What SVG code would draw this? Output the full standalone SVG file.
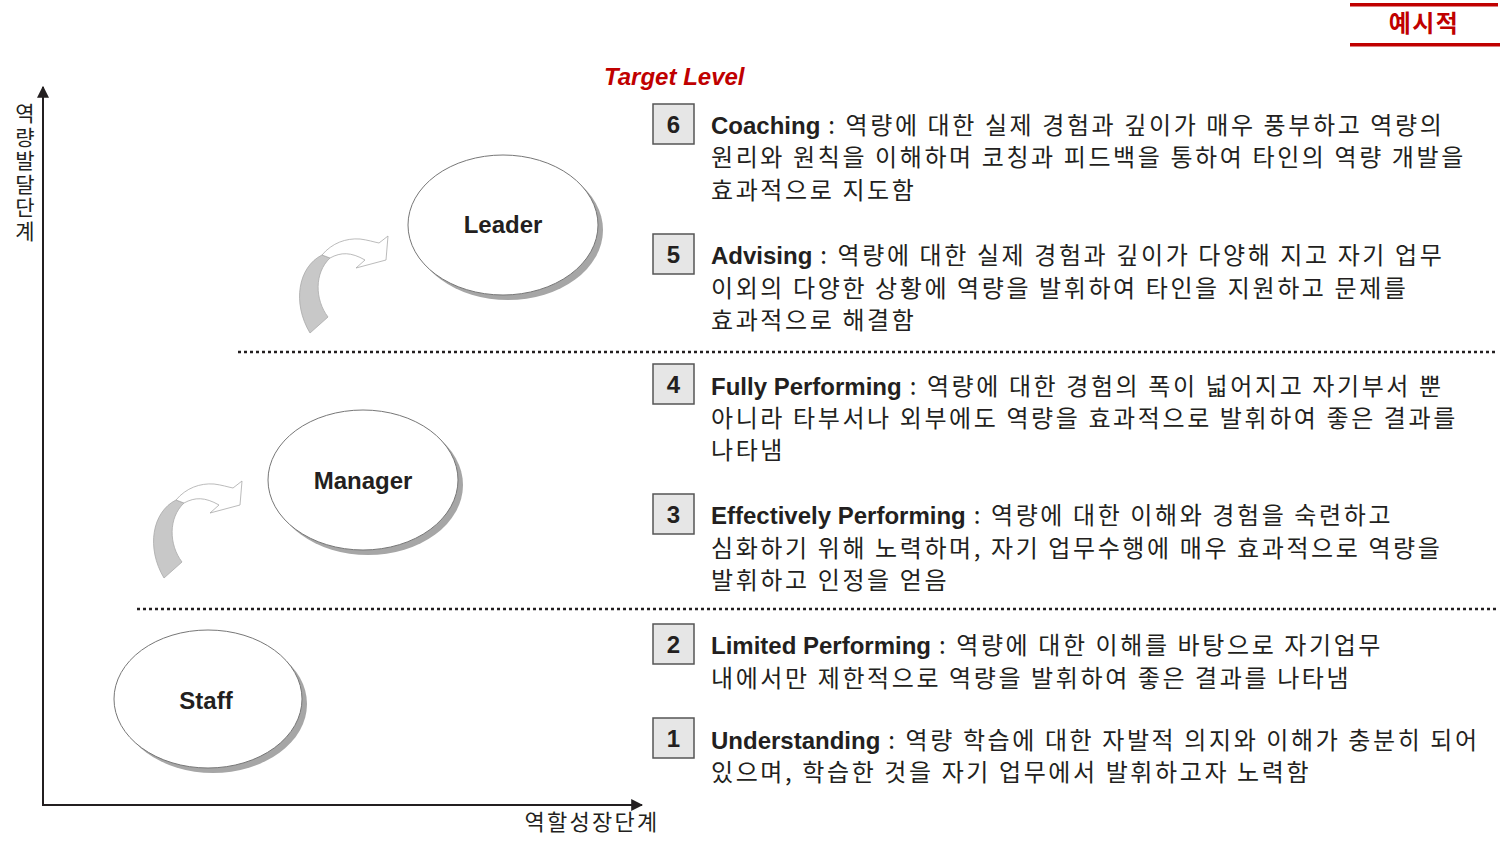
<svg xmlns="http://www.w3.org/2000/svg" xmlns:xlink="http://www.w3.org/1999/xlink" width="1501" height="851" viewBox="0 0 1501 851">
<style>
.kr{font-family:"Noto Sans CJK KR","Noto Sans",sans-serif;fill:#231f20}
.desc{font-size:24px;letter-spacing:2.6px}
.ttl{font-family:"Liberation Sans",Arial,sans-serif;font-weight:bold;letter-spacing:0}
.num{font-family:"Liberation Sans",Arial,sans-serif;font-weight:bold;font-size:24px;fill:#231f20;text-anchor:middle}
.box{fill:#e6e6e6;stroke:#555;stroke-width:1.5}
.node{fill:#fff;stroke:#777;stroke-width:1}
.shadow{fill:#a6a6a6}
.nlabel{font-family:"Liberation Sans",Arial,sans-serif;font-weight:bold;font-size:24px;fill:#231f20;text-anchor:middle}
.axis{stroke:#231f20;stroke-width:2;fill:none}
.dot{stroke:#231f20;stroke-width:2.5;stroke-dasharray:3 3;fill:none}
.red{fill:#c00000}
</style>
<defs>
<marker id="ah" viewBox="0 0 10 10" refX="9" refY="5" markerWidth="6" markerHeight="6" orient="auto" markerUnits="strokeWidth">
<path d="M0,0 L10,5 L0,10 Z" fill="#231f20"/>
</marker>
<g id="curl">
<path d="M176,500 C152,512 146,548 164,578 L182,562 C169,545 168,518 184,503 Z" fill="#c8c8c8" stroke="#aaa" stroke-width="0.8"/>
<path d="M176,500 C186,488 200,483 214,484 C222,485 228,487 233,488 L242,481 L240,505 L210,513 L219,505 C205,497 195,497 184,503 Z" fill="#fff" stroke="#aaa" stroke-width="0.8"/>
</g>
</defs>

<g id="header">
<rect x="1350" y="3" width="148" height="3.5" class="red"/>
<rect x="1350" y="43" width="150" height="3.5" class="red"/>
<text x="1424" y="32" class="kr" style="fill:#c00000;font-size:24px;font-weight:bold;letter-spacing:1.5px" text-anchor="middle">예시적</text>
</g>

<g id="axes">
<line x1="43" y1="806" x2="43" y2="87" class="axis" marker-end="url(#ah)"/>
<line x1="42" y1="805" x2="642" y2="805" class="axis" marker-end="url(#ah)"/>
<text x="25" y="103" class="kr" style="font-size:21px;writing-mode:vertical-rl;text-orientation:upright;letter-spacing:2.5px">역량발달단계</text>
<text x="592" y="830" class="kr" style="font-size:22px;letter-spacing:2.3px" text-anchor="middle">역할성장단계</text>
</g>

<text id="target-level" x="604" y="85" style="font-family:'Liberation Sans',Arial,sans-serif;font-weight:bold;font-style:italic;font-size:24px;fill:#c00000">Target Level</text>

<g id="separators">
<line x1="238" y1="352" x2="1497" y2="352" class="dot"/>
<line x1="137" y1="609" x2="1497" y2="609" class="dot"/>
</g>

<g id="connectors">
<use xlink:href="#curl" href="#curl"/>
<use xlink:href="#curl" href="#curl" transform="translate(146,-245)"/>
</g>

<g id="node-leader">
<ellipse cx="508" cy="230" rx="95" ry="70" class="shadow"/>
<ellipse cx="503" cy="225" rx="95" ry="70" class="node"/>
<text x="503" y="233" class="nlabel">Leader</text>
</g>
<g id="node-manager">
<ellipse cx="368" cy="485" rx="95" ry="70" class="shadow"/>
<ellipse cx="363" cy="480" rx="95" ry="70" class="node"/>
<text x="363" y="489" class="nlabel">Manager</text>
</g>
<g id="node-staff">
<ellipse cx="213" cy="704" rx="94" ry="69" class="shadow"/>
<ellipse cx="208" cy="699" rx="94" ry="69" class="node"/>
<text x="206" y="709" class="nlabel">Staff</text>
</g>

<g id="level-6">
<rect x="653" y="104" width="41" height="40" class="box"/>
<text x="673.5" y="133" class="num">6</text>
<text class="kr desc"><tspan x="711" y="134"><tspan class="ttl">Coaching</tspan> : 역량에 대한 실제 경험과 깊이가 매우 풍부하고 역량의</tspan><tspan x="711" y="166">원리와 원칙을 이해하며 코칭과 피드백을 통하여 타인의 역량 개발을</tspan><tspan x="711" y="199">효과적으로 지도함</tspan></text>
</g>
<g id="level-5">
<rect x="653" y="234" width="41" height="40" class="box"/>
<text x="673.5" y="263" class="num">5</text>
<text class="kr desc"><tspan x="711" y="264"><tspan class="ttl">Advising</tspan> : 역량에 대한 실제 경험과 깊이가 다양해 지고 자기 업무</tspan><tspan x="711" y="297">이외의 다양한 상황에 역량을 발휘하여 타인을 지원하고 문제를</tspan><tspan x="711" y="329">효과적으로 해결함</tspan></text>
</g>
<g id="level-4">
<rect x="653" y="364" width="41" height="40" class="box"/>
<text x="673.5" y="393" class="num">4</text>
<text class="kr desc"><tspan x="711" y="395"><tspan class="ttl">Fully Performing</tspan> : 역량에 대한 경험의 폭이 넓어지고 자기부서 뿐</tspan><tspan x="711" y="427">아니라 타부서나 외부에도 역량을 효과적으로 발휘하여 좋은 결과를</tspan><tspan x="711" y="459">나타냄</tspan></text>
</g>
<g id="level-3">
<rect x="653" y="494" width="41" height="40" class="box"/>
<text x="673.5" y="523" class="num">3</text>
<text class="kr desc"><tspan x="711" y="524"><tspan class="ttl">Effectively Performing</tspan> : 역량에 대한 이해와 경험을 숙련하고</tspan><tspan x="711" y="557">심화하기 위해 노력하며, 자기 업무수행에 매우 효과적으로 역량을</tspan><tspan x="711" y="589">발휘하고 인정을 얻음</tspan></text>
</g>
<g id="level-2">
<rect x="653" y="624" width="41" height="40" class="box"/>
<text x="673.5" y="653" class="num">2</text>
<text class="kr desc"><tspan x="711" y="654"><tspan class="ttl">Limited Performing</tspan> : 역량에 대한 이해를 바탕으로 자기업무</tspan><tspan x="711" y="687">내에서만 제한적으로 역량을 발휘하여 좋은 결과를 나타냄</tspan></text>
</g>
<g id="level-1">
<rect x="653" y="718" width="41" height="40" class="box"/>
<text x="673.5" y="747" class="num">1</text>
<text class="kr desc"><tspan x="711" y="749"><tspan class="ttl">Understanding</tspan> : 역량 학습에 대한 자발적 의지와 이해가 충분히 되어</tspan><tspan x="711" y="781">있으며, 학습한 것을 자기 업무에서 발휘하고자 노력함</tspan></text>
</g>
</svg>
